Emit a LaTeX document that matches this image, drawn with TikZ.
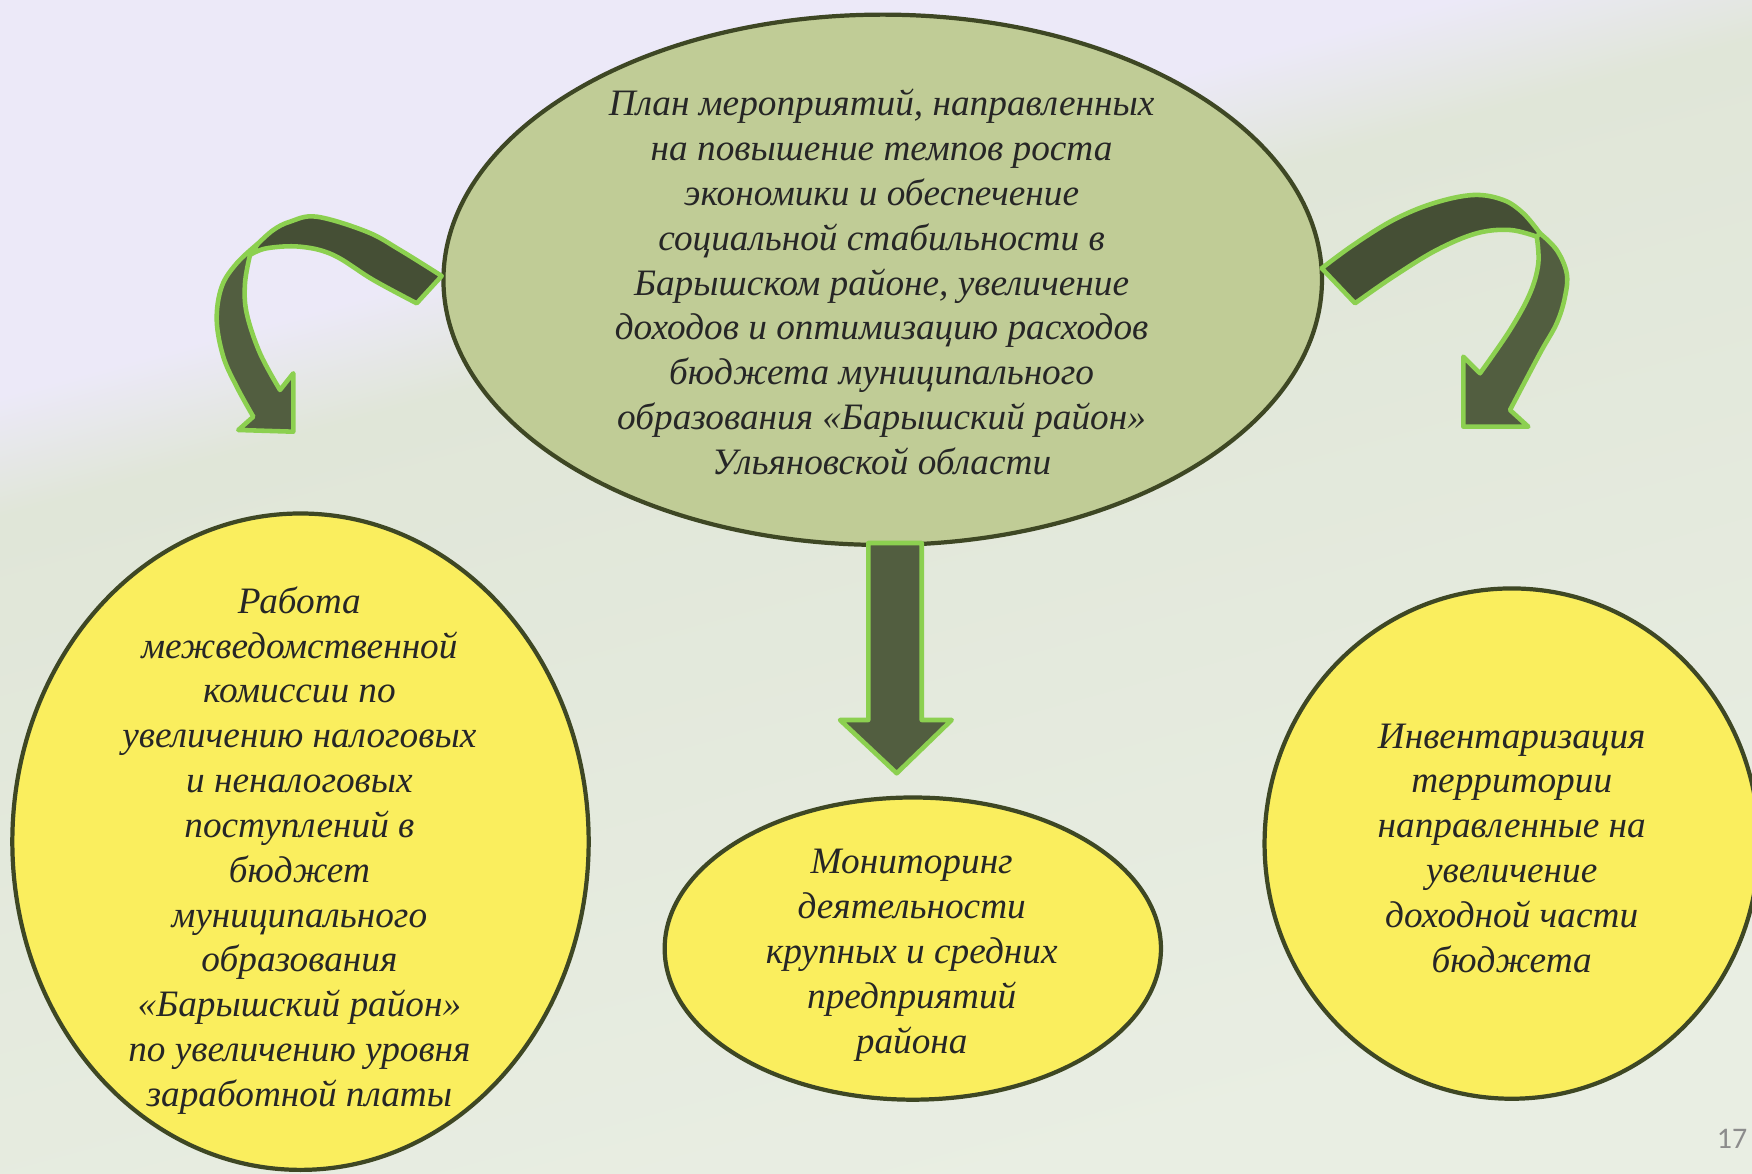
\documentclass[tikz,border=0pt]{standalone}
\usepackage{fontspec}
\setmainfont{Liberation Serif}
\newfontfamily\slidenumfont{Carlito}
\usetikzlibrary{shapes.geometric}

\definecolor{lavbg}{RGB}{236,233,248}
\definecolor{palebg}{RGB}{224,230,216}
\definecolor{lowbg}{RGB}{233,238,227}
\definecolor{olivefill}{RGB}{192,204,150}
\definecolor{olivedark}{RGB}{62,71,36}
\definecolor{yellowfill}{RGB}{250,238,94}
\definecolor{arrowgreen}{RGB}{140,208,80}
\definecolor{arrowdark}{RGB}{69,79,53}
\definecolor{arrowmid}{RGB}{82,94,64}
\definecolor{textdark}{RGB}{38,38,38}
\definecolor{numgray}{RGB}{140,140,140}

\pgfdeclareverticalshading{slidebg}{100bp}{color(0bp)=(lowbg); color(26bp)=(lowbg); color(61.5bp)=(palebg); color(66bp)=(lavbg); color(100bp)=(lavbg)}

\begin{document}
\begin{tikzpicture}[x=0.01cm, y=-0.01cm,
  bubble/.style={ellipse, draw=olivedark, line width=1.2pt, inner sep=0pt},
  bubbletext/.style={align=center, text=textdark, inner sep=0pt,
    font=\fontsize{10.6}{12.75}\selectfont\itshape},
  block/.style={draw=arrowgreen, line width=1.3pt, line join=round}]

  % Background
  \useasboundingbox (0,0) rectangle (1752,1174);
  \shade[shading=slidebg, shading angle=15.25] (0,0) rectangle (1752,1174);

  % Top ellipse
  \node[bubble, fill=olivefill, minimum width=8.78cm, minimum height=5.30cm] (plan) at (882.7,279.8) {};
  \node[bubbletext] (plan-text) at (881.6,282) {План мероприятий, направленных\\
    на повышение темпов роста\\ экономики и обеспечение\\ социальной стабильности в\\
    Барышском районе, увеличение\\ доходов и оптимизацию расходов\\
    бюджета муниципального\\ образования «Барышский район»\\ Ульяновской области};

  % Lower ellipses
  \node[bubble, fill=yellowfill, minimum width=5.76cm, minimum height=6.56cm] (commission) at (300.5,841.7) {};
  \node[bubbletext] (commission-text) at (299.4,850.5) {Работа\\ межведомственной\\ комиссии по\\
    увеличению налоговых\\ и неналоговых\\ поступлений в\\ бюджет\\ муниципального\\
    образования\\ «Барышский район»\\ по увеличению уровня\\ заработной платы};

  \node[bubble, fill=yellowfill, minimum width=4.96cm, minimum height=3.02cm] (monitoring) at (912.8,948.6) {};
  \node[bubbletext] (monitoring-text) at (911.7,955.3) {Мониторинг\\ деятельности\\
    крупных и средних\\ предприятий\\ района};

  \node[bubble, fill=yellowfill, minimum width=4.94cm, minimum height=5.10cm] (inventory) at (1511.7,843.6) {};
  \node[bubbletext] (inventory-text) at (1511.7,848.2) {Инвентаризация\\ территории\\
    направленные на\\ увеличение\\ доходной части\\ бюджета};

  % Arrow in the middle
  \filldraw[block, fill=arrowmid] (868.3,543) -- (921.7,543) -- (921.7,720) -- (951.7,720)
    -- (896.7,773.3) -- (840,720) -- (868.3,720) -- cycle;

  % Left curved arrow
  \filldraw[block, fill=arrowmid] plot[smooth, tension=0.6] coordinates {(258.3,243.3) (236.7,263.3)
    (221.7,286.7) (216.7,320) (223.3,356.7) (236.7,386.7) (253.3,416.7)} -- (238.3,430)
    -- (293.3,431.7) -- (293.3,373.3) -- (280,390) -- plot[smooth, tension=0.6] coordinates {(280,390)
    (260,353.3) (246.7,313.3) (245,283.3) (250,255)} -- cycle;
  \filldraw[block, fill=arrowdark] plot[smooth, tension=0.6] coordinates {(441.7,276) (400,250)
    (366.7,231.7) (316.7,216.7) (290,221.7) (273.3,230) (258.3,243.3)} -- (250,255)
    -- plot[smooth, tension=0.6] coordinates {(250,255) (266.7,248.3) (300,246.7) (333.3,255)
    (373.3,280) (416.7,303.3)} -- cycle;

  % Right curved arrow
  \filldraw[block, fill=arrowmid] plot[smooth, tension=0.6] coordinates {(1540,233.3) (1556.7,250)
    (1566.7,273.3) (1565,296.7) (1556.7,323.3) (1540,353.3) (1510,410)} -- (1528.3,426.7)
    -- (1463.3,426.7) -- (1463.3,356.7) -- (1480,373.3) -- plot[smooth, tension=0.6] coordinates {(1480,373.3)
    (1510,330) (1530,293.3) (1538.3,263.3) (1536.7,236.7)} -- cycle;
  \filldraw[block, fill=arrowdark] plot[smooth, tension=0.6] coordinates {(1321.7,268.3) (1353.3,245)
    (1393.3,220) (1433.3,203.3) (1473.3,195) (1503.3,200) (1523.3,213.3) (1540,233.3)}
    -- (1536.7,236.7) -- plot[smooth, tension=0.6] coordinates {(1536.7,236.7) (1510,230)
    (1476.7,233.3) (1436.7,250) (1393.3,276.7) (1355,303.3)} -- cycle;

  % Slide number
  \node[font=\slidenumfont\fontsize{8.5}{10}\selectfont, text=numgray] (slidenum) at (1732,1138.5) {17};
\end{tikzpicture}
\end{document}
